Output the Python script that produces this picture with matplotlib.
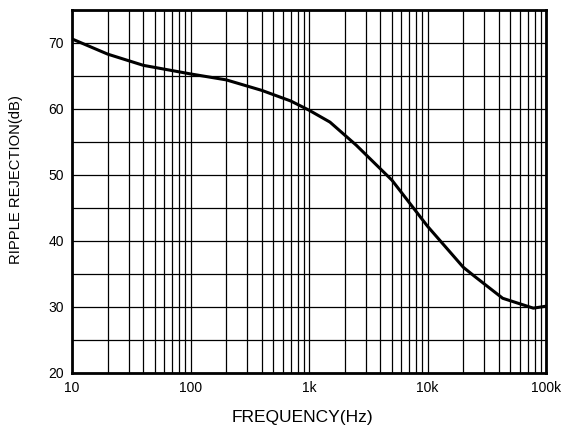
import matplotlib
matplotlib.use("Agg")
import matplotlib.pyplot as plt
import numpy as np
from matplotlib.ticker import FixedLocator, NullFormatter, FixedFormatter

plt.rcParams['font.family'] = ['Liberation Sans', 'DejaVu Sans']

freq_hz = [10, 20, 40, 100, 200, 400, 700, 1000, 1500, 2500, 5000, 10000, 20000, 25000, 43000, 78000, 100000]
rejection_db = [70.6, 68.3, 66.6, 65.3, 64.4, 62.8, 61.2, 59.8, 58.0, 54.5, 49.2, 42.2, 36.0, 34.6, 31.3, 29.8, 30.1]

x_major = [10, 100, 1000, 10000, 100000]
x_labels = ["10", "100", "1k", "10k", "100k"]
y_major = [20, 30, 40, 50, 60, 70]

fig = plt.figure(figsize=(5.63, 4.32), dpi=100)
ax = fig.add_axes([0.128, 0.137, 0.842, 0.840])

ax.set_xscale('log')
ax.set_xlim(10, 100000)
ax.set_ylim(20, 75)

minor_x = [m * d for d in [10, 100, 1000, 10000] for m in range(2, 10)]
for xv in minor_x + x_major:
    ax.axvline(xv, color='black', lw=0.9, zorder=1)
for yv in np.arange(20, 76, 5):
    ax.axhline(yv, color='black', lw=0.9, zorder=1)

ax.plot(freq_hz, rejection_db, color='black', lw=2.2, zorder=3)

ax.xaxis.set_major_locator(FixedLocator(x_major))
ax.xaxis.set_major_formatter(FixedFormatter(x_labels))
ax.xaxis.set_minor_locator(FixedLocator([]))
ax.xaxis.set_minor_formatter(NullFormatter())
ax.yaxis.set_major_locator(FixedLocator(y_major))
ax.tick_params(length=0, labelsize=10, pad=6)

for s in ax.spines.values():
    s.set_linewidth(2)
    s.set_zorder(4)

ax.set_xlabel("FREQUENCY(Hz)", fontsize=12.5)
ax.set_ylabel("RIPPLE REJECTION(dB)", fontsize=10.6)
ax.xaxis.set_label_coords(0.485, -0.103)
ax.yaxis.set_label_coords(-0.103, 0.532)

fig.savefig("out.png", dpi=100)
